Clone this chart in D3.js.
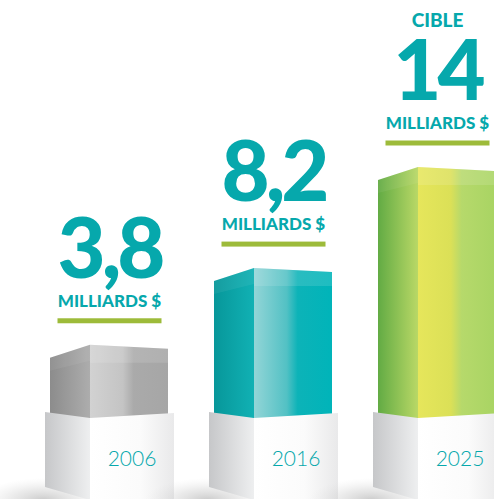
<!DOCTYPE html>
<html>
<head>
<meta charset="utf-8">
<script src="https://cdn.jsdelivr.net/npm/d3@7"></script>
<style>
  html, body { margin: 0; padding: 0; background: #fff; }
  svg { display: block; }
</style>
</head>
<body>
<div id="chart"></div>
<script>
// chart data
var years = ['2006', '2016', '2025'];
var values = [3.8, 8.2, 14];
var valueLabels = ['3,8', '8,2', '14'];
var prefixLabels = ['', '', 'CIBLE'];
var unitLabel = 'MILLIARDS $';

// svg size
const svgWidth = 494;
const svgHeight = 499;

// colours of each bar (left face, right face stops)
var palette = [
    { left: ['#8c8c8c', '#adadad'], right: ['#d2d2d2', '#c4c4c4', '#aaaaaa', '#a6a6a6'] },
    { left: ['#07979a', '#11b1b4'], right: ['#93d5d7', '#52c1c4', '#0cb3b8', '#00b4b9'] },
    { left: ['#62ab44', '#b9d866'], right: ['#e6e65b', '#dbe057', '#b6d96b', '#a8d463'] }
];
var teal = '#06a8ac';
var lime = '#9dbb3a';

var svg = d3.select('#chart')
    .append('svg')
    .attr('width', svgWidth)
    .attr('height', svgHeight);

var defs = svg.append('defs');

// x position of each pedestal
var xScale = d3.scaleBand()
    .domain(years)
    .range([45, 45 + 164 * 2 + 129])
    .paddingInner(35 / 164)
    .paddingOuter(0);

// bar height
var yScale = d3.scaleLinear()
    .domain([0, d3.max(values)])
    .range([415, 171]);

var data = years.map(function(y, i) {
    return { year: y, value: values[i], label: valueLabels[i], prefix: prefixLabels[i], i: i };
});

// gradients
data.forEach(function(d) {
    var p = palette[d.i];
    var gl = defs.append('linearGradient').attr('id', 'left' + d.i)
        .attr('x1', 0).attr('x2', 1).attr('y1', 0).attr('y2', 0);
    gl.append('stop').attr('offset', 0).attr('stop-color', p.left[0]);
    gl.append('stop').attr('offset', 1).attr('stop-color', p.left[1]);

    var gr = defs.append('linearGradient').attr('id', 'right' + d.i)
        .attr('x1', 0).attr('x2', 1).attr('y1', 0).attr('y2', 0);
    gr.append('stop').attr('offset', 0).attr('stop-color', p.right[0]);
    gr.append('stop').attr('offset', 0.42).attr('stop-color', p.right[1]);
    gr.append('stop').attr('offset', 0.56).attr('stop-color', p.right[2]);
    gr.append('stop').attr('offset', 1).attr('stop-color', p.right[3]);
});

var pl = defs.append('linearGradient').attr('id', 'pedLeft')
    .attr('x1', 0).attr('x2', 1).attr('y1', 0).attr('y2', 0);
pl.append('stop').attr('offset', 0).attr('stop-color', '#c6c7c9');
pl.append('stop').attr('offset', 1).attr('stop-color', '#eeeff0');

var pr = defs.append('linearGradient').attr('id', 'pedRight')
    .attr('x1', 0).attr('x2', 1).attr('y1', 0).attr('y2', 0);
pr.append('stop').attr('offset', 0).attr('stop-color', '#ffffff');
pr.append('stop').attr('offset', 0.6).attr('stop-color', '#fbfbfb');
pr.append('stop').attr('offset', 1).attr('stop-color', '#e9e9ea');

var sh = defs.append('radialGradient').attr('id', 'shadow');
sh.append('stop').attr('offset', 0).attr('stop-color', '#a8a8a8').attr('stop-opacity', 0.6);
sh.append('stop').attr('offset', 0.5).attr('stop-color', '#c4c4c4').attr('stop-opacity', 0.35);
sh.append('stop').attr('offset', 1).attr('stop-color', '#dddddd').attr('stop-opacity', 0);

var groups = svg.selectAll('.bar')
    .data(data)
    .enter()
    .append('g')
    .attr('class', 'bar')
    .attr('transform', d => `translate(${xScale(d.year)}, 0)`);

var bw = xScale.bandwidth();
var div = 45;

// shadow on the floor
groups.append('ellipse')
    .attr('cx', -2)
    .attr('cy', 500)
    .attr('rx', 62)
    .attr('ry', 22)
    .attr('fill', 'url(#shadow)');

// bar faces
groups.append('path')
    .attr('d', function(d) {
        var t = yScale(d.value), b = yScale(0) + 3;
        return `M5,${t + 9}L${div},${t - 4}L${div},${b}L5,${b}Z`;
    })
    .attr('fill', d => `url(#left${d.i})`);

groups.append('path')
    .attr('d', function(d) {
        var t = yScale(d.value), b = yScale(0) + 3;
        return `M${div},${t - 4}L${bw - 6},${t}L${bw - 6},${b}L${div},${b}Z`;
    })
    .attr('fill', d => `url(#right${d.i})`);

// lighter top face band
groups.append('path')
    .attr('d', function(d) {
        var t = yScale(d.value);
        return `M${div},${t - 4}L${bw - 6},${t}L${bw - 6},${t + 14}L${div},${t + 14}Z`;
    })
    .attr('fill', '#ffffff')
    .attr('opacity', 0.12);

groups.append('path')
    .attr('d', function(d) {
        var t = yScale(d.value);
        return `M5,${t + 9}L${div},${t - 4}L${div},${t + 12}L5,${t + 22}Z`;
    })
    .attr('fill', '#ffffff')
    .attr('opacity', 0.06);

// pedestal
groups.append('path')
    .attr('d', `M0,412L${div},418L${div},500L0,487Z`)
    .attr('fill', 'url(#pedLeft)');

groups.append('path')
    .attr('d', `M${div},418L${bw},413L${bw},500L${div},500Z`)
    .attr('fill', 'url(#pedRight)');

// year labels
groups.append('text')
    .attr('x', (div + bw) / 2)
    .attr('y', 466)
    .attr('text-anchor', 'middle')
    .style('font-family', 'Lato, sans-serif')
    .style('font-weight', 300)
    .style('font-size', '21px')
    .style('fill', teal)
    .text(d => d.year);

// green rule above each bar
groups.append('rect')
    .attr('x', bw / 2 - 52)
    .attr('y', d => yScale(d.value) - 30.5)
    .attr('width', 104)
    .attr('height', 5)
    .attr('fill', lime);

// unit label
groups.append('text')
    .attr('x', bw / 2)
    .attr('y', d => yScale(d.value) - 42)
    .attr('text-anchor', 'middle')
    .style('font-family', 'Lato, sans-serif')
    .style('font-weight', 900)
    .style('font-size', '17px')
    .style('letter-spacing', '0px')
    .style('fill', teal)
    .text(unitLabel);

// big value
groups.append('text')
    .attr('x', bw / 2)
    .attr('y', d => yScale(d.value) - 71)
    .attr('text-anchor', 'middle')
    .style('font-family', 'Lato, sans-serif')
    .style('font-weight', 900)
    .style('font-size', '83px')
    .style('letter-spacing', '-4px')
    .style('fill', teal)
    .text(d => d.label);

// prefix (target)
groups.append('text')
    .attr('x', bw / 2)
    .attr('y', d => yScale(d.value) - 144)
    .attr('text-anchor', 'middle')
    .style('font-family', 'Lato, sans-serif')
    .style('font-weight', 900)
    .style('font-size', '19px')
    .style('fill', teal)
    .text(d => d.prefix);
</script>
</body>
</html>
